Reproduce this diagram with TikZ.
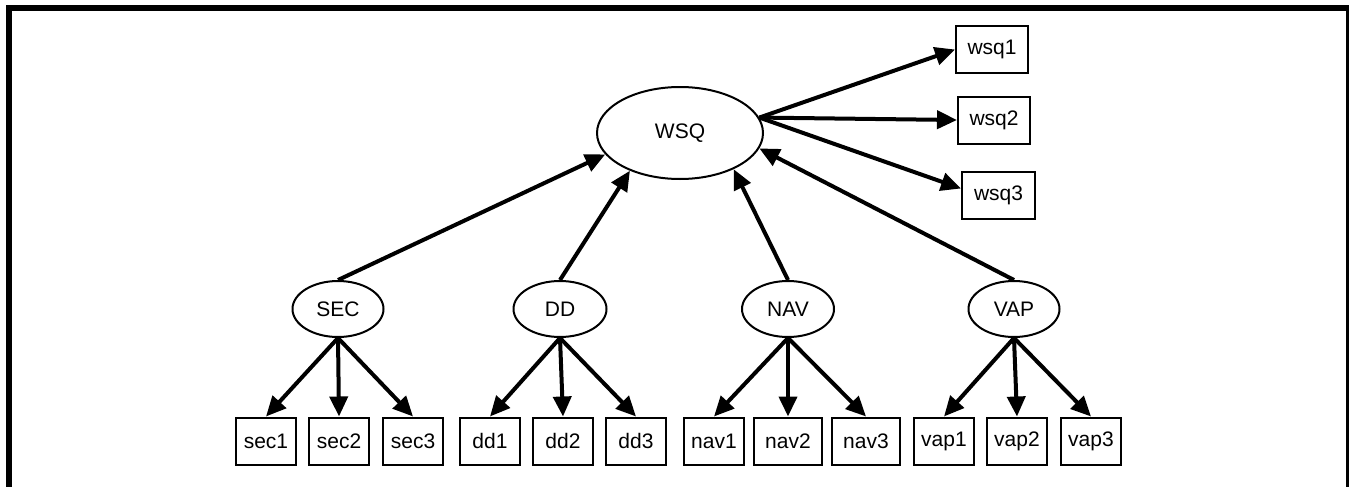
\documentclass[tikz,border=0pt]{standalone}
\usepackage{fontspec}
\setmainfont{Liberation Sans}
\usetikzlibrary{arrows.meta,shapes.geometric}
\begin{document}
\begin{tikzpicture}[x=1pt,y=-1pt,
  lat/.style={draw,ellipse,line width=2pt,inner sep=0pt,font=\fontsize{21}{25}\selectfont},
  obs/.style={draw,rectangle,line width=2pt,inner sep=0pt,minimum width=60pt,minimum height=47pt,font=\fontsize{21}{25}\selectfont},
  arr/.style={line width=4pt,-{Triangle[length=20pt,width=18pt]}},
  frame/.style={line width=6pt}]
\useasboundingbox (0,0) rectangle (1349,487);
\begin{scope}
\clip (0,0) rectangle (1349,487);
\draw[frame] (9,520) -- (9,8) -- (1348.5,8) -- (1348.5,520);
\end{scope}
% latent
\node[lat,minimum width=166pt,minimum height=92pt] (wsq) at (680,133) {WSQ};
\node[lat,minimum width=91pt,minimum height=56pt] (sec) at (338,309) {SEC};
\node[lat,minimum width=93pt,minimum height=56pt] (dd) at (560,309) {DD};
\node[lat,minimum width=92pt,minimum height=56pt] (nav) at (788,309) {NAV};
\node[lat,minimum width=91pt,minimum height=56pt] (vap) at (1014,309) {VAP};
% observed
\node[obs] (sec1) at (266,441) {sec1};
\node[obs] (sec2) at (339,441) {sec2};
\node[obs] (sec3) at (413,441) {sec3};
\node[obs] (dd1) at (490,441) {dd1};
\node[obs] (dd2) at (563,441) {dd2};
\node[obs] (dd3) at (636,441) {dd3};
\node[obs] (nav1) at (714,441) {nav1};
\node[obs,minimum width=68pt] (nav2) at (788,441) {nav2};
\node[obs,minimum width=68pt] (nav3) at (866,441) {nav3};
\node[obs] (vap1) at (944,441) {vap1};
\node[obs] (vap2) at (1017,441) {vap2};
\node[obs] (vap3) at (1091,441) {vap3};
\node[obs,minimum width=72pt] (wsq1) at (992,49.5) {wsq1};
\node[obs,minimum width=72pt] (wsq2) at (994,120) {wsq2};
\node[obs,minimum width=73pt] (wsq3) at (998.5,195.5) {wsq3};
% connectors
\draw[arr] (sec.north) -- (wsq.196);
\draw[arr] (dd.north) -- (wsq.217);
\draw[arr] (nav.north) -- (wsq.326);
\draw[arr] (vap.north) -- (wsq.349);
\draw[arr] (wsq.11) -- (wsq1.west);
\draw[arr] (wsq.11) -- (wsq2.west);
\draw[arr] (wsq.11) -- ([yshift=7pt]wsq3.west);
\foreach \p in {sec,dd,nav,vap}{
  \foreach \i in {1,2,3}{
    \draw[arr] (\p.south) -- (\p\i.north);
  }
}
\end{tikzpicture}
\end{document}
